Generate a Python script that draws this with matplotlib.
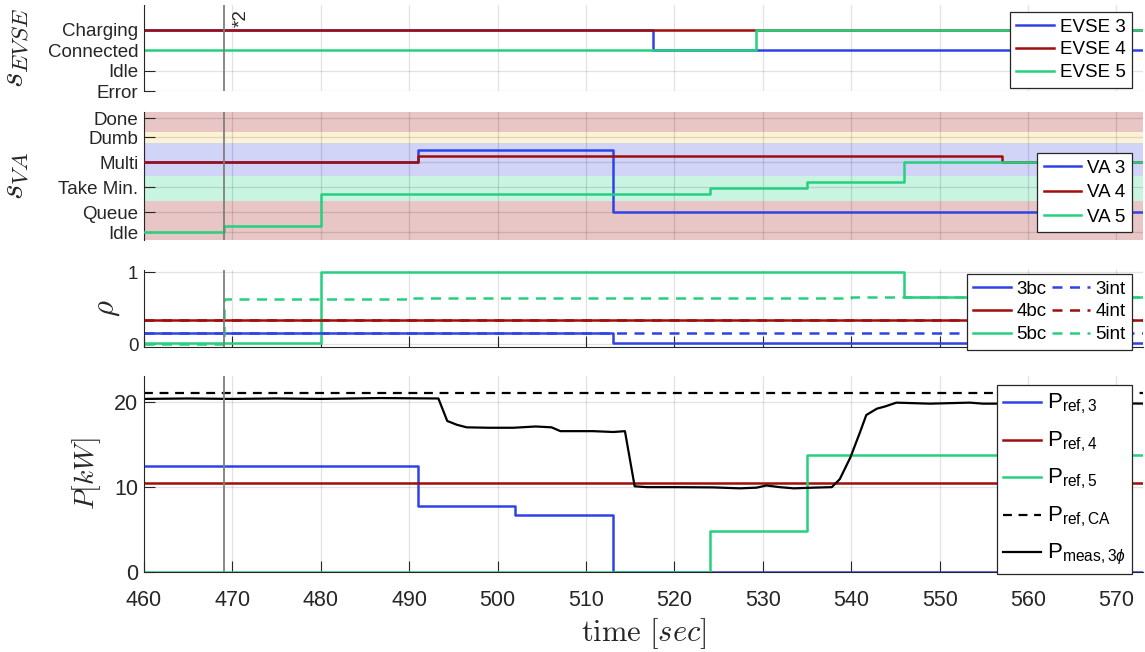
import matplotlib
matplotlib.use('Agg')
import matplotlib.pyplot as plt

plt.rcParams['font.family'] = ['Liberation Sans', 'DejaVu Sans']
plt.rcParams['mathtext.fontset'] = 'custom'
plt.rcParams['mathtext.rm'] = 'Liberation Sans'
plt.rcParams['mathtext.it'] = 'Liberation Sans:italic'
plt.rcParams['mathtext.bf'] = 'Liberation Sans:bold'

# ---------------- data ----------------
x_limits = (460, 573)
x_ticks = [460, 470, 480, 490, 500, 510, 520, 530, 540, 550, 560, 570]
t_marker = 469

evse_labels = ['Error', 'Idle', 'Connected', 'Charging']
evse_vals = [0, 1, 2, 3]
evse3_t = [460, 517.6, 573]
evse3_v = [3, 2, 2]
evse4_t = [460, 573]
evse4_v = [3, 3]
evse5_t = [460, 529.2, 573]
evse5_v = [2, 3, 3]

va_labels = ['Idle', 'Queue', 'Take Min.', 'Multi', 'Dumb', 'Done']
va_vals = [0.2, 1, 2, 3, 4, 4.75]
va_band_edges = [-0.1, 1.45, 2.45, 3.75, 4.2, 5.0]
va_band_colors = ['#e8c6c6', '#c9f4e1', '#d1d3f7', '#fcf2d4', '#e8c6c6']
va3_t = [460, 491, 513, 573]
va3_v = [3.0, 3.48, 1.0, 1.0]
va4_t = [460, 491, 557, 573]
va4_v = [3.0, 3.23, 3.0, 3.0]
va5_t = [460, 469, 480, 524, 535, 546, 573]
va5_v = [0.2, 0.45, 1.72, 1.98, 2.23, 3.0, 3.0]

rho3bc_t = [460, 513, 573]
rho3bc_v = [0.15, 0.01, 0.01]
rho4bc_t = [460, 573]
rho4bc_v = [0.34, 0.34]
rho5bc_t = [460, 480, 546, 573]
rho5bc_v = [0.01, 1.0, 0.66, 0.66]
rho3int_t = [460, 573]
rho3int_v = [0.15, 0.15]
rho4int_t = [460, 573]
rho4int_v = [0.34, 0.34]
rho5int_t = [460, 469, 490, 515, 540, 573]
rho5int_v = [0.0, 0.625, 0.635, 0.645, 0.655, 0.66]

pref3_t = [460, 491, 502, 513, 573]
pref3_v = [12.5, 7.8, 6.7, 0.0, 0.0]
pref4_t = [460, 573]
pref4_v = [10.5, 10.5]
pref5_t = [460, 524, 535, 573]
pref5_v = [0.0, 4.85, 13.8, 13.8]
prefca_t = [460, 573]
prefca_v = [21.05, 21.05]
pmeas_t = [460, 465, 470, 475, 480, 486.7, 493.3, 494.3, 495.4, 496.5, 499, 501.8,
           504.3, 506.1, 507.1, 510.8, 513.1, 514.4, 515.5, 516.9, 520, 524.4, 527.4,
           529.3, 530.4, 531.9, 533.5, 535.7, 537.8, 538.7, 539.9, 541.0, 541.7, 542.9,
           543.8, 545.1, 548.9, 553.4, 554.9, 560, 565, 573]
pmeas_v = [20.4, 20.45, 20.4, 20.45, 20.4, 20.5, 20.45, 17.8, 17.35, 17.05, 17.0, 17.0,
           17.15, 17.05, 16.6, 16.6, 16.5, 16.6, 10.1, 10.0, 10.0, 9.97, 9.86,
           9.94, 10.2, 10.0, 9.86, 9.94, 10.0, 10.94, 13.5, 16.5, 18.5, 19.25,
           19.5, 19.96, 19.84, 19.96, 19.84, 19.85, 19.9, 19.85]

# ---------------- style ----------------
C_BLUE = '#3042e6'
C_RED = '#a10d0d'
C_GREEN = '#26d07f'
AX_C = '#262626'
LW = 1.8
TICK_FS = 13.5

fig = plt.figure(figsize=(11.45, 6.52), dpi=100)
W = 1145.0
H = 652.0
left = 144 / W
width = 999 / W


def mkax(top_px, bot_px):
    return fig.add_axes([left, 1 - bot_px / H, width, (bot_px - top_px) / H])


ax1 = mkax(5, 91)
ax2 = mkax(112, 240)
ax3 = mkax(270, 347)
ax4 = mkax(376, 572)


def style(ax, bottom=True):
    ax.set_xlim(*x_limits)
    ax.set_xticks(x_ticks)
    for s in ['top', 'right']:
        ax.spines[s].set_visible(False)
    ax.spines['left'].set_color(AX_C)
    ax.spines['bottom'].set_color(AX_C)
    ax.spines['bottom'].set_visible(bottom)
    ax.tick_params(direction='in', length=8, color=AX_C, labelcolor=AX_C,
                   labelsize=TICK_FS, pad=4, bottom=bottom)
    ax.tick_params(axis='x', labelbottom=False)
    ax.grid(True, color=AX_C, alpha=0.13, lw=0.9)
    ax.set_axisbelow(True)
    ax.axvline(t_marker, color='#7f7f7f', lw=1.3, zorder=5)


def leg(ax, anchor, labelspacing=0.45, **kw):
    lg = ax.legend(loc='upper right', bbox_to_anchor=anchor, borderaxespad=0,
                   fancybox=False, framealpha=1, edgecolor='#262626',
                   fontsize=TICK_FS, handlelength=2.0, handletextpad=0.3,
                   borderpad=0.35, labelspacing=labelspacing, **kw)
    lg.get_frame().set_linewidth(0.9)
    lg.set_zorder(10)
    return lg


# panel 1
style(ax1, bottom=False)
ax1.step(evse3_t, evse3_v, where='post', color=C_BLUE, lw=LW, label='EVSE 3')
ax1.step(evse4_t, evse4_v, where='post', color=C_RED, lw=LW, label='EVSE 4')
ax1.step(evse5_t, evse5_v, where='post', color=C_GREEN, lw=LW, label='EVSE 5')
ax1.set_ylim(0, 4.2)
ax1.set_yticks(evse_vals)
ax1.set_yticklabels(evse_labels)
ax1.set_ylabel(r'$s_{EVSE}$', fontsize=24, math_fontfamily='cm', color=AX_C)
ax1.yaxis.set_label_coords(-0.113, 0.5)
ax1.text(470, 4.0, '*2', rotation=90, ha='left', va='top', fontsize=TICK_FS,
         color=AX_C)
leg(ax1, (0.989, 0.919), labelspacing=0.3)

# panel 2
style(ax2, bottom=False)
for lo, hi, c in zip(va_band_edges[:-1], va_band_edges[1:], va_band_colors):
    ax2.axhspan(lo, hi, color=c, lw=0, zorder=0)
ax2.grid(True, color='#000000', alpha=0.12, lw=0.9, zorder=1)
ax2.step(va3_t, va3_v, where='post', color=C_BLUE, lw=LW, label='VA 3', zorder=3)
ax2.step(va4_t, va4_v, where='post', color=C_RED, lw=LW, label='VA 4', zorder=3)
ax2.step(va5_t, va5_v, where='post', color=C_GREEN, lw=LW, label='VA 5', zorder=3)
ax2.set_ylim(va_band_edges[0], va_band_edges[-1])
ax2.set_yticks(va_vals)
ax2.set_yticklabels(va_labels)
ax2.set_ylabel(r'$s_{VA}$', fontsize=24, math_fontfamily='cm', color=AX_C)
ax2.yaxis.set_label_coords(-0.113, 0.5)
leg(ax2, (0.989, 0.68), labelspacing=0.4)

# panel 3
style(ax3)
ax3.step(rho3bc_t, rho3bc_v, where='post', color=C_BLUE, lw=LW, label='3bc')
ax3.step(rho4bc_t, rho4bc_v, where='post', color=C_RED, lw=LW, label='4bc')
ax3.step(rho5bc_t, rho5bc_v, where='post', color=C_GREEN, lw=LW, label='5bc')
ax3.step(rho3int_t, rho3int_v, where='post', color=C_BLUE, lw=LW, ls=(0, (4, 3)), label='3int')
ax3.step(rho4int_t, rho4int_v, where='post', color=C_RED, lw=LW, ls=(0, (4, 3)), label='4int')
ax3.step(rho5int_t, rho5int_v, where='post', color=C_GREEN, lw=LW, ls=(0, (4, 3)), label='5int')
ax3.set_ylim(-0.04, 1.03)
ax3.set_yticks([0, 1])
ax3.set_ylabel(r'$\rho$', fontsize=22, math_fontfamily='cm', color=AX_C)
ax3.yaxis.set_label_coords(-0.022, 0.5)
leg(ax3, (0.989, 0.948), labelspacing=0.3, ncol=2, columnspacing=0.3)

# panel 4
style(ax4)
ax4.tick_params(axis='x', labelbottom=True, labelsize=15.5, pad=13)
ax4.tick_params(axis='y', labelsize=15.5)
ax4.step(pref3_t, pref3_v, where='post', color=C_BLUE, lw=LW, label=r'P$_{\mathrm{ref,3}}$')
ax4.step(pref4_t, pref4_v, where='post', color=C_RED, lw=LW, label=r'P$_{\mathrm{ref,4}}$')
ax4.step(pref5_t, pref5_v, where='post', color=C_GREEN, lw=LW, label=r'P$_{\mathrm{ref,5}}$')
ax4.plot(prefca_t, prefca_v, color='black', lw=1.6, ls=(0, (4, 3)), label=r'P$_{\mathrm{ref,CA}}$')
ax4.plot(pmeas_t, pmeas_v, color='black', lw=1.6, label=r'P$_{\mathrm{meas,3}\phi}$')
ax4.set_ylim(0, 23.1)
ax4.set_yticks([0, 10, 20])
ax4.set_ylabel(r'$P[kW]$', fontsize=20, math_fontfamily='cm', color=AX_C)
ax4.yaxis.set_label_coords(-0.041, 0.5)
ax4.set_xlabel(r'$\mathrm{time}\ [sec]$', fontsize=22, math_fontfamily='cm',
               color=AX_C, labelpad=4)
lg4 = leg(ax4, (0.989, 0.954), labelspacing=0.7)
for t in lg4.get_texts():
    t.set_fontsize(16)

fig.savefig('out.png', dpi=100)
